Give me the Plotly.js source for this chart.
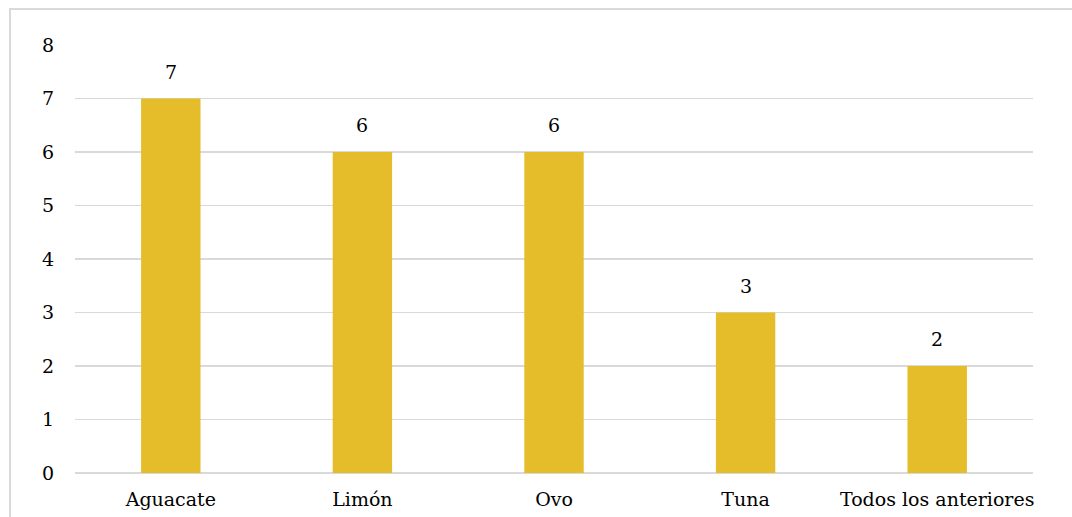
<!DOCTYPE html>
<html>
<head>
<meta charset="utf-8">
<script src="https://cdn.plot.ly/plotly-3.0.1.min.js"></script>
<style>
  html, body { margin: 0; padding: 0; background: #ffffff; }
  #wrap { position: relative; width: 1072px; height: 517px; overflow: hidden; }
  #frame { position: absolute; left: 9px; top: 8px; width: 1100px; height: 600px;
           border-left: 2px solid #d9d9d9; border-top: 2px solid #d9d9d9; box-sizing: border-box; }
  #chart { position: absolute; left: 0; top: 0; width: 1072px; height: 517px; }
</style>
</head>
<body>
<div id="wrap">
  <div id="frame"></div>
  <div id="chart"></div>
</div>
<script>
// Categorías y conteos
const categorias = ["Aguacate", "Limón", "Ovo", "Tuna", "Todos los anteriores"];
const conteos = [7, 6, 6, 3, 2];
const yTicks = [0, 1, 2, 3, 4, 5, 6, 7, 8];

const fuente = "DejaVu Serif";
const tam = 19;
const colorBarra = "#E5BC2A";
const colorRejilla = "#d9d9d9";

const trace = {
  type: "bar",
  x: categorias,
  y: conteos,
  marker: { color: colorBarra, line: { width: 0 } },
  hoverinfo: "skip"
};

// Etiquetas de valor sobre cada barra
const etiquetas = categorias.map((c, i) => ({
  x: c,
  y: conteos[i],
  xref: "x",
  yref: "y",
  text: String(conteos[i]),
  showarrow: false,
  yanchor: "bottom",
  yshift: 14,
  font: { family: fuente, size: tam, color: "#000000" }
}));

const layout = {
  width: 1072,
  height: 517,
  margin: { l: 75, r: 39, t: 45, b: 44 },
  paper_bgcolor: "rgba(0,0,0,0)",
  plot_bgcolor: "rgba(0,0,0,0)",
  bargap: 0.69,
  showlegend: false,
  font: { family: fuente, size: tam, color: "#000000" },
  xaxis: {
    type: "category",
    showgrid: false,
    showline: false,
    zeroline: false,
    ticks: "",
    ticklabelstandoff: 13,
    tickfont: { family: fuente, size: tam, color: "#000000" },
    fixedrange: true
  },
  yaxis: {
    range: [0, 8],
    tickvals: yTicks,
    ticktext: yTicks.map(String),
    showgrid: true,
    gridcolor: colorRejilla,
    gridwidth: 1.5,
    zeroline: true,
    zerolinecolor: colorRejilla,
    zerolinewidth: 1.5,
    showline: false,
    ticks: "",
    ticklabelstandoff: 20,
    tickfont: { family: fuente, size: tam, color: "#000000" },
    fixedrange: true
  },
  annotations: etiquetas
};

Plotly.newPlot("chart", [trace], layout, { displayModeBar: false, staticPlot: true });
</script>
</body>
</html>
